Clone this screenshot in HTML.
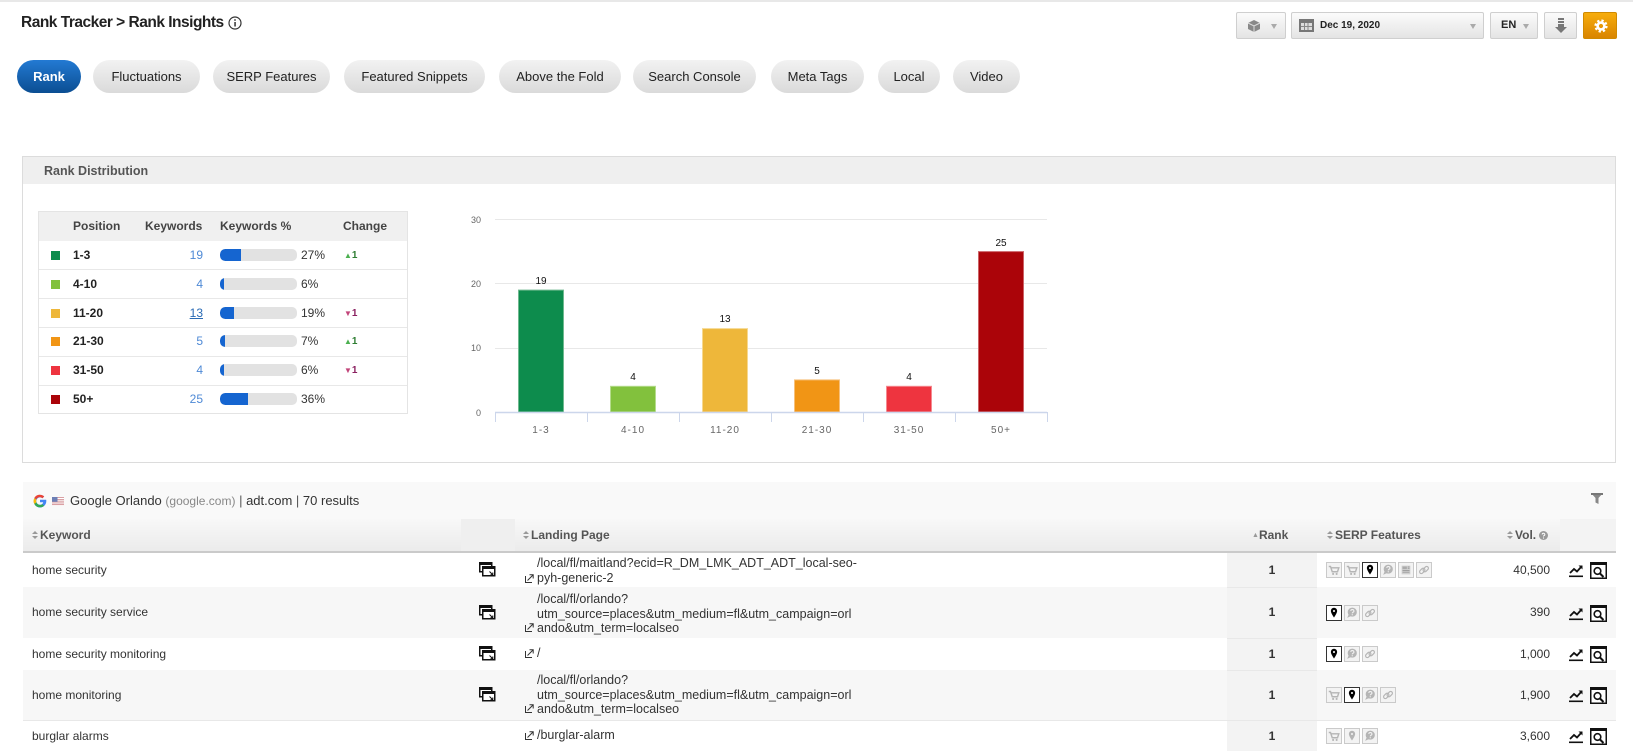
<!DOCTYPE html>
<html><head><meta charset="utf-8">
<style>
*{box-sizing:border-box;margin:0;padding:0}
body{width:1633px;height:751px;overflow:hidden;background:#fff;font-family:"Liberation Sans",Arial,sans-serif;color:#333;position:relative}
.a{position:absolute;white-space:nowrap}
.tab{position:absolute;top:60px;height:33px;border-radius:17px;background:linear-gradient(#f2f2f2,#dadada);font-size:13px;color:#222;text-align:center;line-height:33px;white-space:nowrap}
.tab.on{background:linear-gradient(#237ad3,#0b4e92);color:#fff;font-weight:bold}
.btn{position:absolute;top:12px;height:27px;border:1px solid #cfcfcf;border-radius:2px;background:linear-gradient(#fbfbfb,#e4e4e4)}
.caret{position:absolute;top:11px;width:0;height:0;border-left:3px solid transparent;border-right:3px solid transparent;border-top:5px solid #aaa}
.th{font-size:12px;font-weight:bold;color:#444}
.sq{position:absolute;left:51px;width:9px;height:9px}
.pos{position:absolute;left:73px;font-size:12px;font-weight:bold;color:#222}
.kw{position:absolute;right:1430px;font-size:12px;color:#4f8ad6}
.bar{position:absolute;left:220px;width:77px;height:12px;border-radius:5px;background:#e2e2e2;overflow:hidden}
.bar i{position:absolute;left:0;top:0;bottom:0;background:#1565d0;border-radius:5px 0 0 5px}
.pct{position:absolute;left:301px;font-size:12px;color:#333}
.chg{position:absolute;left:344px;font-size:10px;font-weight:bold}
.row{position:absolute;left:23px;width:1593px;border-bottom:1px solid #e8e8e8}
.kwd{position:absolute;left:32px;font-size:12px;color:#333}
.lp{position:absolute;left:537px;font-size:12.5px;line-height:14.5px;color:#333;white-space:pre}
.rk{position:absolute;left:1227px;width:90px;text-align:center;font-size:12px;font-weight:bold;color:#333}
.vol{position:absolute;right:83px;font-size:12px;color:#333}
.si{position:absolute;width:16px;height:16px;border:1px solid #cacaca;background:#f3f3f3}
.si.on{border:1px solid #333;background:#fff}
.hd{position:absolute;top:527px;font-size:12px;font-weight:bold;color:#555;line-height:16px}
.srt{display:inline-block;width:6px;height:9px;position:relative;margin-right:2px;vertical-align:-1px}
.srt:before{content:"";position:absolute;left:0;top:0;border-left:3px solid transparent;border-right:3px solid transparent;border-bottom:3.5px solid #999}
.srt:after{content:"";position:absolute;left:0;top:5px;border-left:3px solid transparent;border-right:3px solid transparent;border-top:3.5px solid #999}
</style></head><body>

<svg width="0" height="0" style="position:absolute">
<defs>
<symbol id="cart" viewBox="0 0 16 16"><path d="M2 4h2l2 6h6l1.5-4.5H4.7" stroke="#b5b5b5" stroke-width="1.6" fill="none"/><circle cx="7" cy="12.5" r="1.2" fill="#b5b5b5"/><circle cx="11" cy="12.5" r="1.2" fill="#b5b5b5"/></symbol>
<symbol id="pin" viewBox="0 0 16 16"><path d="M8 2a3.6 3.6 0 0 1 3.6 3.6c0 2.6-3.6 7.6-3.6 7.6s-3.6-5-3.6-7.6A3.6 3.6 0 0 1 8 2z" fill="#000"/><circle cx="8" cy="5.7" r="1.2" fill="#fff"/></symbol>
<symbol id="ping" viewBox="0 0 16 16"><path d="M8 2a3.6 3.6 0 0 1 3.6 3.6c0 2.6-3.6 7.6-3.6 7.6s-3.6-5-3.6-7.6A3.6 3.6 0 0 1 8 2z" fill="#b5b5b5"/><circle cx="8" cy="5.7" r="1.2" fill="#f3f3f3"/></symbol>
<symbol id="bub" viewBox="0 0 16 16"><circle cx="8.3" cy="7" r="5.2" fill="#b5b5b5"/><path d="M4 10l-1.5 3.5 4-2z" fill="#b5b5b5"/><path d="M6.6 5.6a1.8 1.6 0 1 1 2.4 1.6c-.7.3-.7.7-.7 1.2" stroke="#f3f3f3" stroke-width="1.2" fill="none"/><circle cx="8.3" cy="10" r=".7" fill="#f3f3f3"/></symbol>
<symbol id="news" viewBox="0 0 16 16"><rect x="3" y="3" width="10" height="10" fill="#d0d0d0"/><rect x="4" y="4" width="5" height="3" fill="#aaa"/><path d="M4 8.5h8M4 10.5h8M10 4.5h2M10 6h2" stroke="#999" stroke-width="1"/></symbol>
<symbol id="link" viewBox="0 0 16 16"><g stroke="#b5b5b5" stroke-width="1.3" fill="none"><rect x="2.5" y="7" width="7" height="4" rx="2" transform="rotate(-45 6 9)"/><rect x="6.5" y="5" width="7" height="4" rx="2" transform="rotate(-45 10 7)"/></g></symbol>
<symbol id="win" viewBox="0 0 17 15"><rect x="0.75" y="0.75" width="12" height="9" fill="#fff" stroke="#111" stroke-width="1.5"/><rect x="0" y="0" width="13.5" height="3" fill="#111"/><rect x="3.75" y="4.75" width="12" height="9" fill="#fff" stroke="#111" stroke-width="1.5"/><rect x="3" y="4" width="13.5" height="3" fill="#111"/><path d="M10.5 9.5l3 3M13.8 10.5v2.3h-2.3" stroke="#111" stroke-width="1" fill="none"/></symbol>
<symbol id="ext" viewBox="0 0 9 9"><path d="M0.5 2V8.5H7" stroke="#333" stroke-width="1" fill="none"/><path d="M2.5 6.5L8 1M4.5 0.8H8.2V4.5" stroke="#333" stroke-width="1" fill="none"/></symbol>
<symbol id="trend" viewBox="0 0 15 15"><path d="M1 10l4-4 3 2.5 4.5-5" stroke="#111" stroke-width="1.8" fill="none"/><path d="M9.5 2.5h4v4z" fill="#111"/><rect x="0" y="12.5" width="14" height="1.6" fill="#111"/></symbol>
<symbol id="srch" viewBox="0 0 17 17"><rect x="0.75" y="0.75" width="15.5" height="15.5" fill="#fff" stroke="#111" stroke-width="1.5"/><rect x="0" y="0" width="17" height="3" fill="#111"/><circle cx="7.5" cy="9" r="3.3" stroke="#111" stroke-width="1.6" fill="none"/><path d="M10 11.5l3.5 3.5" stroke="#111" stroke-width="2"/></symbol>
</defs></svg>

<div class="a" style="left:0;top:0;width:1633px;height:2px;background:#e8e8e8"></div>

<!-- title -->
<div class="a" style="left:21px;top:14px;font-size:15.5px;line-height:18px;font-weight:bold;color:#222;letter-spacing:-0.5px">Rank Tracker &gt; Rank Insights</div>
<svg class="a" style="left:228px;top:16px" width="14" height="14"><circle cx="7" cy="7" r="6" fill="none" stroke="#333" stroke-width="1.2"/><rect x="6.3" y="6" width="1.5" height="4.5" fill="#333"/><circle cx="7" cy="4" r="0.9" fill="#333"/></svg>

<!-- tabs -->
<div class="tab on" style="left:17px;width:64px">Rank</div>
<div class="tab" style="left:93px;width:107px">Fluctuations</div>
<div class="tab" style="left:213px;width:117px">SERP Features</div>
<div class="tab" style="left:344px;width:141px">Featured Snippets</div>
<div class="tab" style="left:499px;width:122px">Above the Fold</div>
<div class="tab" style="left:633px;width:123px">Search Console</div>
<div class="tab" style="left:771px;width:93px">Meta Tags</div>
<div class="tab" style="left:878px;width:62px">Local</div>
<div class="tab" style="left:953px;width:67px">Video</div>

<!-- top right controls -->
<div class="btn" style="left:1236px;width:50px">
 <svg class="a" style="left:10px;top:6px" width="14" height="14"><path d="M7 1l6 3v6l-6 3-6-3V4z" fill="#888"/><path d="M1 4l6 3 6-3M7 7v6" stroke="#ddd" stroke-width="1" fill="none"/></svg>
 <div class="caret" style="left:34px"></div>
</div>
<div class="btn" style="left:1291px;width:193px">
 <svg class="a" style="left:7px;top:6px" width="15" height="13"><rect x="0" y="0" width="15" height="13" fill="#777"/><rect x="2" y="4" width="11" height="7" fill="#ddd"/><path d="M5.5 4v7M9 4v7M2 7.5h11" stroke="#888" stroke-width="1"/></svg>
 <div class="a" style="left:28px;top:7px;font-size:10px;font-weight:bold;color:#222">Dec 19, 2020</div>
 <div class="caret" style="left:178px"></div>
</div>
<div class="btn" style="left:1490px;width:48px">
 <div class="a" style="left:10px;top:6px;font-size:11px;color:#222;font-weight:bold">EN</div>
 <div class="caret" style="left:32px"></div>
</div>
<div class="btn" style="left:1544px;width:33px">
 <svg class="a" style="left:10px;top:5px" width="12" height="16"><rect x="3" y="0" width="6" height="2" fill="#777"/><rect x="3" y="3" width="6" height="2" fill="#777"/><rect x="3" y="6" width="6" height="3" fill="#777"/><path d="M0 9h12l-6 6z" fill="#777"/></svg>
</div>
<div class="a" style="left:1583px;top:12px;width:34px;height:27px;border:1px solid #d08a00;border-radius:2px;background:linear-gradient(#f7ad0c,#d98500)">
 <svg class="a" style="left:9px;top:5px" width="16" height="16"><circle cx="8" cy="8" r="5.3" fill="none" stroke="#fff" stroke-width="2.6" stroke-dasharray="2.2 2"/><circle cx="8" cy="8" r="3.4" fill="none" stroke="#fff" stroke-width="2.6"/></svg>
</div>

<!-- Rank distribution panel -->
<div class="a" style="left:22px;top:156px;width:1594px;height:307px;border:1px solid #dcdcdc"></div>
<div class="a" style="left:23px;top:157px;width:1592px;height:27px;background:#efefef"></div>
<div class="a" style="left:44px;top:163px;font-size:12.5px;font-weight:bold;color:#555;line-height:16px">Rank Distribution</div>

<!-- inner table -->
<div class="a" style="left:38px;top:211px;width:370px;height:203px;border:1px solid #e4e4e4"></div>
<div class="a" style="left:39px;top:212px;width:368px;height:29px;background:#f0f0f0"></div>
<div class="a th" style="left:73px;top:219px">Position</div>
<div class="a th" style="left:145px;top:219px">Keywords</div>
<div class="a th" style="left:220px;top:219px">Keywords %</div>
<div class="a th" style="left:343px;top:219px">Change</div>

<div class="a" style="left:39px;top:269px;width:368px;height:1px;background:#e8e8e8"></div>
<div class="a" style="left:39px;top:298px;width:368px;height:1px;background:#e8e8e8"></div>
<div class="a" style="left:39px;top:327px;width:368px;height:1px;background:#e8e8e8"></div>
<div class="a" style="left:39px;top:356px;width:368px;height:1px;background:#e8e8e8"></div>
<div class="a" style="left:39px;top:385px;width:368px;height:1px;background:#e8e8e8"></div>

<!-- row 1 -->
<div class="sq" style="top:251px;background:#0d8c4d"></div>
<div class="pos" style="top:248px">1-3</div>
<div class="a kw" style="left:0;width:203px;text-align:right;top:248px">19</div>
<div class="bar" style="top:249px"><i style="width:21px"></i></div>
<div class="pct" style="top:248px">27%</div>
<div class="chg" style="top:250px"><span style="color:#4cb050;font-size:8px">▲</span><span style="color:#2e7d32">1</span></div>
<!-- row 2 -->
<div class="sq" style="top:280px;background:#82c13d"></div>
<div class="pos" style="top:277px">4-10</div>
<div class="a kw" style="left:0;width:203px;text-align:right;top:277px">4</div>
<div class="bar" style="top:278px"><i style="width:4px"></i></div>
<div class="pct" style="top:277px">6%</div>
<!-- row 3 -->
<div class="sq" style="top:309px;background:#eeb73a"></div>
<div class="pos" style="top:306px">11-20</div>
<div class="a" style="left:0;width:203px;text-align:right;top:306px;font-size:12px;color:#2a6bb5;text-decoration:underline">13</div>
<div class="bar" style="top:307px"><i style="width:14px"></i></div>
<div class="pct" style="top:306px">19%</div>
<div class="chg" style="top:308px"><span style="color:#c2457a;font-size:8px">▼</span><span style="color:#8a2060">1</span></div>
<!-- row 4 -->
<div class="sq" style="top:337px;background:#f19515"></div>
<div class="pos" style="top:334px">21-30</div>
<div class="a kw" style="left:0;width:203px;text-align:right;top:334px">5</div>
<div class="bar" style="top:335px"><i style="width:5px"></i></div>
<div class="pct" style="top:334px">7%</div>
<div class="chg" style="top:336px"><span style="color:#4cb050;font-size:8px">▲</span><span style="color:#2e7d32">1</span></div>
<!-- row 5 -->
<div class="sq" style="top:366px;background:#ee343f"></div>
<div class="pos" style="top:363px">31-50</div>
<div class="a kw" style="left:0;width:203px;text-align:right;top:363px">4</div>
<div class="bar" style="top:364px"><i style="width:4px"></i></div>
<div class="pct" style="top:363px">6%</div>
<div class="chg" style="top:365px"><span style="color:#c2457a;font-size:8px">▼</span><span style="color:#8a2060">1</span></div>
<!-- row 6 -->
<div class="sq" style="top:395px;background:#ab0409"></div>
<div class="pos" style="top:392px">50+</div>
<div class="a kw" style="left:0;width:203px;text-align:right;top:392px">25</div>
<div class="bar" style="top:393px"><i style="width:28px"></i></div>
<div class="pct" style="top:392px">36%</div>

<!-- chart -->
<svg class="a" style="left:0;top:0" width="1633" height="751" font-family="Liberation Sans, Arial, sans-serif">
 <g stroke="#e8e8e8" stroke-width="1">
  <line x1="495" y1="219.5" x2="1047" y2="219.5"/>
  <line x1="495" y1="283.5" x2="1047" y2="283.5"/>
  <line x1="495" y1="348.5" x2="1047" y2="348.5"/>
 </g>
 <g font-size="9" fill="#666" text-anchor="end">
  <text x="481" y="223">30</text>
  <text x="481" y="287">20</text>
  <text x="481" y="351">10</text>
  <text x="481" y="416">0</text>
 </g>
 <rect x="518.5" y="290.1" width="45" height="121.9" fill="#0d8c4d" stroke="#6fb98f" stroke-width="1"/>
 <rect x="610.5" y="386.3" width="45" height="25.7" fill="#82c13d" stroke="#b5dc8c" stroke-width="1"/>
 <rect x="702.5" y="328.6" width="45" height="83.4" fill="#eeb73a" stroke="#f6d890" stroke-width="1"/>
 <rect x="794.5" y="379.9" width="45" height="32.1" fill="#f19515" stroke="#f7c07a" stroke-width="1"/>
 <rect x="886.5" y="386.3" width="45" height="25.7" fill="#ee343f" stroke="#f58a90" stroke-width="1"/>
 <rect x="978.5" y="251.6" width="45" height="160.4" fill="#ab0409" stroke="#cc6266" stroke-width="1"/>
 <g font-size="10" fill="#111" text-anchor="middle">
  <text x="541" y="284">19</text>
  <text x="633" y="380">4</text>
  <text x="725" y="322">13</text>
  <text x="817" y="374">5</text>
  <text x="909" y="380">4</text>
  <text x="1001" y="246">25</text>
 </g>
 <line x1="495" y1="412.5" x2="1047" y2="412.5" stroke="#ccd6eb" stroke-width="1.5"/>
 <g stroke="#ccd6eb" stroke-width="1">
  <line x1="495.5" y1="412" x2="495.5" y2="422"/>
  <line x1="587.5" y1="412" x2="587.5" y2="422"/>
  <line x1="679.5" y1="412" x2="679.5" y2="422"/>
  <line x1="771.5" y1="412" x2="771.5" y2="422"/>
  <line x1="863.5" y1="412" x2="863.5" y2="422"/>
  <line x1="955.5" y1="412" x2="955.5" y2="422"/>
  <line x1="1047.5" y1="412" x2="1047.5" y2="422"/>
 </g>
 <g font-size="10" fill="#666" text-anchor="middle" letter-spacing="1">
  <text x="541" y="433">1-3</text>
  <text x="633" y="433">4-10</text>
  <text x="725" y="433">11-20</text>
  <text x="817" y="433">21-30</text>
  <text x="909" y="433">31-50</text>
  <text x="1001" y="433">50+</text>
 </g>
</svg>

<!-- google strip -->
<div class="a" style="left:23px;top:482px;width:1593px;height:37px;background:#f9f9f9"></div>
<svg class="a" style="left:33px;top:494px" width="14" height="14" viewBox="0 0 14 14">
 <path d="M12.6 5.8H7v2.5h3.2c-.3 1.5-1.6 2.5-3.2 2.5a3.7 3.7 0 1 1 2.4-6.5l1.8-1.8A6.3 6.3 0 1 0 13.3 7c0-.4 0-.8-.1-1.2z" fill="#4285f4"/>
 <path d="M1.3 3.9l2.1 1.5A3.7 3.7 0 0 1 9.4 4.3l1.8-1.8A6.3 6.3 0 0 0 1.3 3.9z" fill="#ea4335"/>
 <path d="M7 13.3a6.2 6.2 0 0 0 4.2-1.6l-2-1.6a3.7 3.7 0 0 1-5.8-1.8L1.3 9.9A6.3 6.3 0 0 0 7 13.3z" fill="#34a853"/>
 <path d="M3.4 8.3a3.7 3.7 0 0 1 0-2.6L1.3 4.1a6.3 6.3 0 0 0 0 5.8z" fill="#fbbc05"/>
</svg>
<svg class="a" style="left:52px;top:497px" width="12" height="9"><rect width="12" height="9" fill="#d9a0a4"/><path d="M0 1.5h12M0 3.8h12M0 6.1h12M0 8.4h12" stroke="#fff" stroke-width="0.9"/><rect width="5.5" height="4.8" fill="#6d7fb5"/></svg>
<div class="a" style="left:70px;top:493px;font-size:13px;color:#333;line-height:16px">Google Orlando <span style="font-size:12px;color:#888">(google.com)</span> <span style="color:#555">|</span> adt.com <span style="color:#555">|</span> 70 results</div>
<svg class="a" style="left:1591px;top:493px" width="12" height="11"><path d="M0 0h12L7.5 5v6l-3-1.5V5z" fill="#888"/><rect x="0" y="0" width="12" height="2" fill="#777"/></svg>

<!-- header row -->
<div class="a" style="left:23px;top:519px;width:1593px;height:34px;background:linear-gradient(#f8f8f8,#ebebeb);border-bottom:2px solid #cacaca"></div>
<div class="a" style="left:461px;top:519px;width:54px;height:32px;background:#efefef"></div>
<div class="a" style="left:1560px;top:519px;width:56px;height:32px;background:#f3f3f3"></div>
<div class="hd" style="left:32px"><span class="srt"></span>Keyword</div>
<div class="hd" style="left:523px"><span class="srt"></span>Landing Page</div>
<div class="hd" style="left:1252px"><span style="font-size:7px;color:#999;vertical-align:2px">▲</span>Rank</div>
<div class="hd" style="left:1327px"><span class="srt"></span>SERP Features</div>
<div class="hd" style="left:1507px"><span class="srt"></span>Vol. <svg width="9" height="9" style="vertical-align:-1px"><circle cx="4.5" cy="4.5" r="4.5" fill="#999"/><path d="M3.2 3.5a1.3 1.2 0 1 1 1.8 1.1c-.4.2-.5.4-.5.9" stroke="#fff" stroke-width="1" fill="none"/><circle cx="4.5" cy="7" r=".6" fill="#fff"/></svg></div>

<!-- rows -->
<div class="row" style="top:553px;height:35px;background:#fff"></div>
<div class="row" style="top:587px;height:52px;background:#f7f7f7"></div>
<div class="row" style="top:638px;height:33px;background:#fff"></div>
<div class="row" style="top:670px;height:51px;background:#f7f7f7"></div>
<div class="a" style="left:23px;top:721px;width:1593px;height:30px;background:#fff"></div>
<div class="a" style="left:1227px;top:553px;width:90px;height:198px;background:#f3f3f3"></div>
<div class="a" style="left:1227px;top:587px;width:90px;height:1px;background:#e8e8e8"></div>
<div class="a" style="left:1227px;top:638px;width:90px;height:1px;background:#e8e8e8"></div>
<div class="a" style="left:1227px;top:670px;width:90px;height:1px;background:#e8e8e8"></div>
<div class="a" style="left:1227px;top:720px;width:90px;height:1px;background:#e8e8e8"></div>

<!-- row 1 -->
<div class="kwd" style="top:563px">home security</div>
<svg class="a" style="left:479px;top:562px" width="17" height="15"><use href="#win"/></svg>
<div class="lp" style="top:556px">/local/fl/maitland?ecid=R_DM_LMK_ADT_ADT_local-seo-
pyh-generic-2</div>
<svg class="a" style="left:525px;top:574px" width="9" height="9"><use href="#ext"/></svg>
<div class="rk" style="top:563px">1</div>
<div class="si" style="left:1326px;top:562px"><svg width="14" height="14"><use href="#cart"/></svg></div>
<div class="si" style="left:1344px;top:562px"><svg width="14" height="14"><use href="#cart"/></svg></div>
<div class="si on" style="left:1362px;top:562px"><svg width="14" height="14"><use href="#pin"/></svg></div>
<div class="si" style="left:1380px;top:562px"><svg width="14" height="14"><use href="#bub"/></svg></div>
<div class="si" style="left:1398px;top:562px"><svg width="14" height="14"><use href="#news"/></svg></div>
<div class="si" style="left:1416px;top:562px"><svg width="14" height="14"><use href="#link"/></svg></div>
<div class="vol" style="top:563px">40,500</div>
<svg class="a" style="left:1569px;top:563px" width="15" height="15"><use href="#trend"/></svg>
<svg class="a" style="left:1590px;top:562px" width="17" height="17"><use href="#srch"/></svg>

<!-- row 2 -->
<div class="kwd" style="top:605px">home security service</div>
<svg class="a" style="left:479px;top:605px" width="17" height="15"><use href="#win"/></svg>
<div class="lp" style="top:592px">/local/fl/orlando?
utm_source=places&amp;utm_medium=fl&amp;utm_campaign=orl
ando&amp;utm_term=localseo</div>
<svg class="a" style="left:525px;top:623px" width="9" height="9"><use href="#ext"/></svg>
<div class="rk" style="top:605px">1</div>
<div class="si on" style="left:1326px;top:605px"><svg width="14" height="14"><use href="#pin"/></svg></div>
<div class="si" style="left:1344px;top:605px"><svg width="14" height="14"><use href="#bub"/></svg></div>
<div class="si" style="left:1362px;top:605px"><svg width="14" height="14"><use href="#link"/></svg></div>
<div class="vol" style="top:605px">390</div>
<svg class="a" style="left:1569px;top:606px" width="15" height="15"><use href="#trend"/></svg>
<svg class="a" style="left:1590px;top:605px" width="17" height="17"><use href="#srch"/></svg>

<!-- row 3 -->
<div class="kwd" style="top:647px">home security monitoring</div>
<svg class="a" style="left:479px;top:646px" width="17" height="15"><use href="#win"/></svg>
<svg class="a" style="left:525px;top:649px" width="9" height="9"><use href="#ext"/></svg>
<div class="lp" style="top:646px">/</div>
<div class="rk" style="top:647px">1</div>
<div class="si on" style="left:1326px;top:646px"><svg width="14" height="14"><use href="#pin"/></svg></div>
<div class="si" style="left:1344px;top:646px"><svg width="14" height="14"><use href="#bub"/></svg></div>
<div class="si" style="left:1362px;top:646px"><svg width="14" height="14"><use href="#link"/></svg></div>
<div class="vol" style="top:647px">1,000</div>
<svg class="a" style="left:1569px;top:647px" width="15" height="15"><use href="#trend"/></svg>
<svg class="a" style="left:1590px;top:646px" width="17" height="17"><use href="#srch"/></svg>

<!-- row 4 -->
<div class="kwd" style="top:688px">home monitoring</div>
<svg class="a" style="left:479px;top:687px" width="17" height="15"><use href="#win"/></svg>
<div class="lp" style="top:673px">/local/fl/orlando?
utm_source=places&amp;utm_medium=fl&amp;utm_campaign=orl
ando&amp;utm_term=localseo</div>
<svg class="a" style="left:525px;top:704px" width="9" height="9"><use href="#ext"/></svg>
<div class="rk" style="top:688px">1</div>
<div class="si" style="left:1326px;top:687px"><svg width="14" height="14"><use href="#cart"/></svg></div>
<div class="si on" style="left:1344px;top:687px"><svg width="14" height="14"><use href="#pin"/></svg></div>
<div class="si" style="left:1362px;top:687px"><svg width="14" height="14"><use href="#bub"/></svg></div>
<div class="si" style="left:1380px;top:687px"><svg width="14" height="14"><use href="#link"/></svg></div>
<div class="vol" style="top:688px">1,900</div>
<svg class="a" style="left:1569px;top:688px" width="15" height="15"><use href="#trend"/></svg>
<svg class="a" style="left:1590px;top:687px" width="17" height="17"><use href="#srch"/></svg>

<!-- row 5 -->
<div class="kwd" style="top:729px">burglar alarms</div>
<svg class="a" style="left:525px;top:731px" width="9" height="9"><use href="#ext"/></svg>
<div class="lp" style="top:728px">/burglar-alarm</div>
<div class="rk" style="top:729px">1</div>
<div class="si" style="left:1326px;top:728px"><svg width="14" height="14"><use href="#cart"/></svg></div>
<div class="si" style="left:1344px;top:728px"><svg width="14" height="14"><use href="#ping"/></svg></div>
<div class="si" style="left:1362px;top:728px"><svg width="14" height="14"><use href="#bub"/></svg></div>
<div class="vol" style="top:729px">3,600</div>
<svg class="a" style="left:1569px;top:729px" width="15" height="15"><use href="#trend"/></svg>
<svg class="a" style="left:1590px;top:728px" width="17" height="17"><use href="#srch"/></svg>

</body></html>
